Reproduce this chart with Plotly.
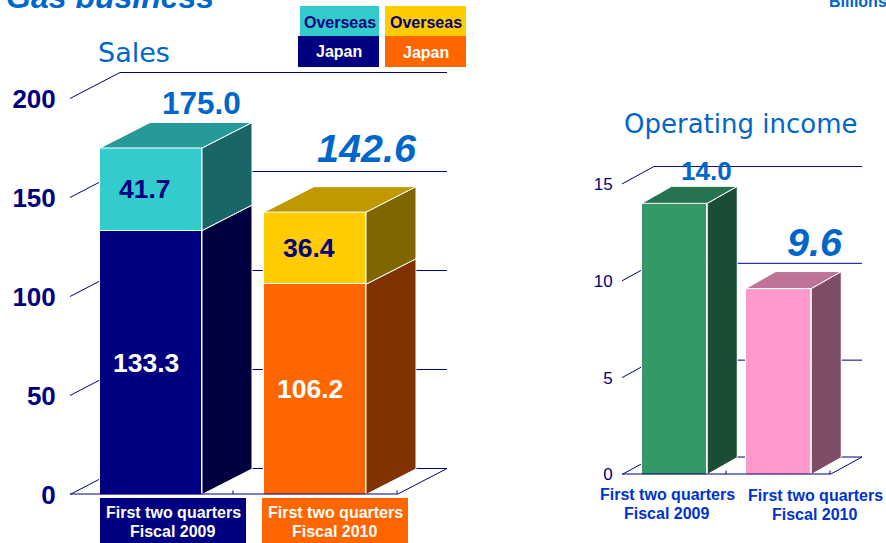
import plotly.graph_objects as go

# ---------- data ----------
cat_line1 = ["First two quarters", "First two quarters"]
cat_line2 = ["Fiscal 2009", "Fiscal 2010"]
sales_japan = [133.3, 106.2]
sales_overseas = [41.7, 36.4]
sales_total = [175.0, 142.6]
income = [14.0, 9.6]
sales_ticks = [0, 50, 100, 150, 200]
income_ticks = [0, 5, 10, 15]

W, H = 886, 543
NAVY = "#000080"
BLUE = "#0066CC"
ARIAL = "Liberation Sans"

L = dict(x0=70, x1=447, ytop=71, ybot=494.5, c0=151, step=164, bw=102, ddx=50, ddy=25.5, pxu=1.98, fdx=50, fdy=26)
R = dict(x0=622, x1=862, ytop=166, ybot=474.5, c0=674.5, step=104, bw=65.5, ddx=30, ddy=17, pxu=19.37, fdx=32, fdy=17.5)


def ranges(g):
    xr = [(g["x0"] - g["c0"]) / g["step"], (g["x1"] - g["c0"]) / g["step"]]
    yr = [0, (g["ybot"] - g["ytop"]) / g["pxu"]]
    return xr, yr


def dom(g):
    return ([g["x0"] / W, g["x1"] / W], [1 - g["ybot"] / H, 1 - g["ytop"] / H])


fig = go.Figure()


def face(xa, ya, xs, ys, color):
    fig.add_trace(go.Scatter(x=xs, y=ys, xaxis=xa, yaxis=ya, mode="lines", fill="toself",
                             fillcolor=color, line=dict(color="white", width=1),
                             hoverinfo="skip", showlegend=False))


def box3d(g, xa, ya, i, base, val, side, top=None):
    """Side (and optional top) faces of a bar segment, in axis units."""
    hw = g["bw"] / g["step"] / 2
    dx = g["ddx"] / g["step"]
    dy = g["ddy"] / g["pxu"]
    r = i + hw
    l = i - hw
    t = base + val
    face(xa, ya, [r, r + dx, r + dx, r, r], [base, base + dy, t + dy, t, base], side)
    if top:
        face(xa, ya, [l, l + dx, r + dx, r, l], [t, t + dy, t + dy, t, t], top)


def wall(g, xa, ya, ticks):
    """Grid lines of the wall and floor, below the bars."""
    xr, _ = ranges(g)
    fdx = g["fdx"] / g["step"]
    fdy = g["fdy"] / g["pxu"]
    ln = dict(color=NAVY, width=1)
    for t in ticks:
        fig.add_shape(type="line", xref=xa, yref=ya, x0=xr[0], y0=t, x1=xr[0] + fdx, y1=t + fdy, line=ln, layer="below")
        fig.add_shape(type="line", xref=xa, yref=ya, x0=xr[0] + fdx, y0=t + fdy, x1=xr[1], y1=t + fdy, line=ln, layer="below")
    xf = xr[1] - fdx
    fig.add_shape(type="line", xref=xa, yref=ya, x0=xf, y0=0, x1=xr[1], y1=fdy, line=ln, layer="below")
    fig.add_shape(type="line", xref=xa, yref=ya, x0=xr[0], y0=0, x1=xf, y1=0, line=dict(color=NAVY, width=2), layer="above")
    tick_h = 4 / g["pxu"]
    for xt in (xf - 1.0, xf):
        fig.add_shape(type="line", xref=xa, yref=ya, x0=xt, y0=0, x1=xt, y1=tick_h, line=ln, layer="above")


# ---------- sales ----------
wall(L, "x", "y", sales_ticks)
japan_colors = [NAVY, "#FF6600"]
over_colors = ["#33CCCC", "#FFCC00"]
fig.add_trace(go.Bar(x=[0, 1], y=sales_japan, width=L["bw"] / L["step"], xaxis="x", yaxis="y",
                     marker=dict(color=japan_colors, line=dict(color="white", width=1)),
                     hoverinfo="skip", showlegend=False))
fig.add_trace(go.Bar(x=[0, 1], y=sales_overseas, width=L["bw"] / L["step"], xaxis="x", yaxis="y",
                     marker=dict(color=over_colors, line=dict(color="white", width=1)),
                     hoverinfo="skip", showlegend=False))
japan_side = ["#000040", "#803300"]
over_side = ["#1A6666", "#806600"]
over_top = ["#269999", "#BF9900"]
for i in (0, 1):
    box3d(L, "x", "y", i, 0, sales_japan[i], japan_side[i])
    box3d(L, "x", "y", i, sales_japan[i], sales_overseas[i], over_side[i], over_top[i])

# ---------- operating income ----------
wall(R, "x2", "y2", income_ticks)
inc_colors = ["#339966", "#FF99CC"]
inc_side = ["#1A4D33", "#804D66"]
inc_top = ["#267350", "#BF7399"]
fig.add_trace(go.Bar(x=[0, 1], y=income, width=R["bw"] / R["step"], xaxis="x2", yaxis="y2",
                     marker=dict(color=inc_colors, line=dict(color="white", width=1)),
                     hoverinfo="skip", showlegend=False))
for i in (0, 1):
    box3d(R, "x2", "y2", i, 0, income[i], inc_side[i], inc_top[i])


def note(text, x, y, size, color, xref="paper", yref="paper", xshift=0, yshift=0, bold=True, italic=False,
         family=ARIAL, xanchor="center", yanchor="middle"):
    if bold:
        text = f"<b>{text}</b>"
    if italic:
        text = f"<i>{text}</i>"
    fig.add_annotation(text=text, x=x, y=y, xref=xref, yref=yref, xshift=xshift, yshift=yshift, showarrow=False,
                       xanchor=xanchor, yanchor=yanchor, align="center",
                       font=dict(size=size, color=color, family=family))


def px(v):
    return v / W


def py(v):
    return 1 - v / H


def rect(x0, y0, x1, y1, color):
    fig.add_shape(type="rect", xref="paper", yref="paper", x0=px(x0), x1=px(x1), y0=py(y0), y1=py(y1),
                  fillcolor=color, line=dict(width=0), layer="above")


# segment values inside the bars
for i in (0, 1):
    note(f"{sales_japan[i]:.1f}", i, sales_japan[i] / 2, 26.5, "white", "x", "y", xshift=-5)
    note(f"{sales_overseas[i]:.1f}", i, sales_japan[i] + sales_overseas[i] / 2, 26.5, NAVY, "x", "y", xshift=-6)

# totals
note(f"{sales_total[0]:.1f}", 0, sales_total[0], 31.5, BLUE, "x", "y", xshift=50, yshift=45)
note(f"{sales_total[1]:.1f}", 1, sales_total[1], 39.5, BLUE, "x", "y", xshift=52, yshift=64, italic=True)
note(f"{income[0]:.1f}", 0, income[0], 26, BLUE, "x2", "y2", xshift=32, yshift=32)
note(f"{income[1]:.1f}", 1, income[1], 39.5, BLUE, "x2", "y2", xshift=36, yshift=47, italic=True)

# titles
note("Gas business", px(4), py(-3), 32, BLUE, italic=True, xanchor="left")
note("Billions", px(827), py(2), 16, BLUE, xanchor="left")
note("Sales", px(133.5), py(53), 27, BLUE, bold=False, family="DejaVu Sans")
note("Operating income", px(740), py(124), 26, BLUE, bold=False, family="DejaVu Sans")

# colour key
rect(300, 6, 379, 36, "#33CCCC")
rect(298, 36, 379, 67, NAVY)
rect(385, 6, 466, 36, "#FFCC00")
rect(385, 36, 466, 67, "#FF6600")
note("Overseas", px(340), py(22), 16, NAVY)
note("Japan", px(339), py(52), 16, "white")
note("Overseas", px(425.5), py(22), 16, NAVY)
note("Japan", px(425.5), py(53), 16, "white")

# category label plates, left chart
rect(100, 498, 246, 543, NAVY)
rect(262, 498, 408, 543, "#FF6600")
note(cat_line1[0], px(173), py(512), 16, "white")
note(cat_line2[0], px(173), py(531), 16, "white")
note(cat_line1[1], px(335), py(512), 16, "white")
note(cat_line2[1], px(335), py(531), 16, "white")

# category labels, right chart
note(cat_line1[0], px(667), py(494), 16, "#0033CC")
note(cat_line2[0], px(667), py(513), 16, "#0033CC")
note(cat_line1[1], px(815), py(495), 16, "#0033CC")
note(cat_line2[1], px(815), py(514), 16, "#0033CC")

lx, ly = ranges(L)
rx, ry = ranges(R)
ldx, ldy = dom(L)
rdx, rdy = dom(R)
fig.update_layout(
    width=W, height=H, autosize=False, margin=dict(l=0, r=0, t=0, b=0, pad=0, autoexpand=False),
    paper_bgcolor="white", plot_bgcolor="rgba(0,0,0,0)", barmode="stack", bargap=0,
    showlegend=False,
    xaxis=dict(domain=ldx, range=lx, visible=False, fixedrange=True),
    yaxis=dict(domain=ldy, range=ly, tickvals=sales_ticks, ticks="outside", ticklen=8, tickcolor="rgba(0,0,0,0)",
               showgrid=False, zeroline=False, showline=False,
               tickfont=dict(size=26, color=NAVY, family=ARIAL, weight="bold"), fixedrange=True),
    xaxis2=dict(domain=rdx, range=rx, visible=False, anchor="y2", fixedrange=True),
    yaxis2=dict(domain=rdy, range=ry, anchor="x2", tickvals=income_ticks, ticks="outside", ticklen=5,
                tickcolor="rgba(0,0,0,0)", showgrid=False, zeroline=False, showline=False,
                tickfont=dict(size=17, color=NAVY, family=ARIAL), fixedrange=True),
)
fig.write_html("out.html",
               post_script="document.body.style.margin='0';document.documentElement.style.overflow='hidden';",
               config={"responsive": False, "displayModeBar": False})
